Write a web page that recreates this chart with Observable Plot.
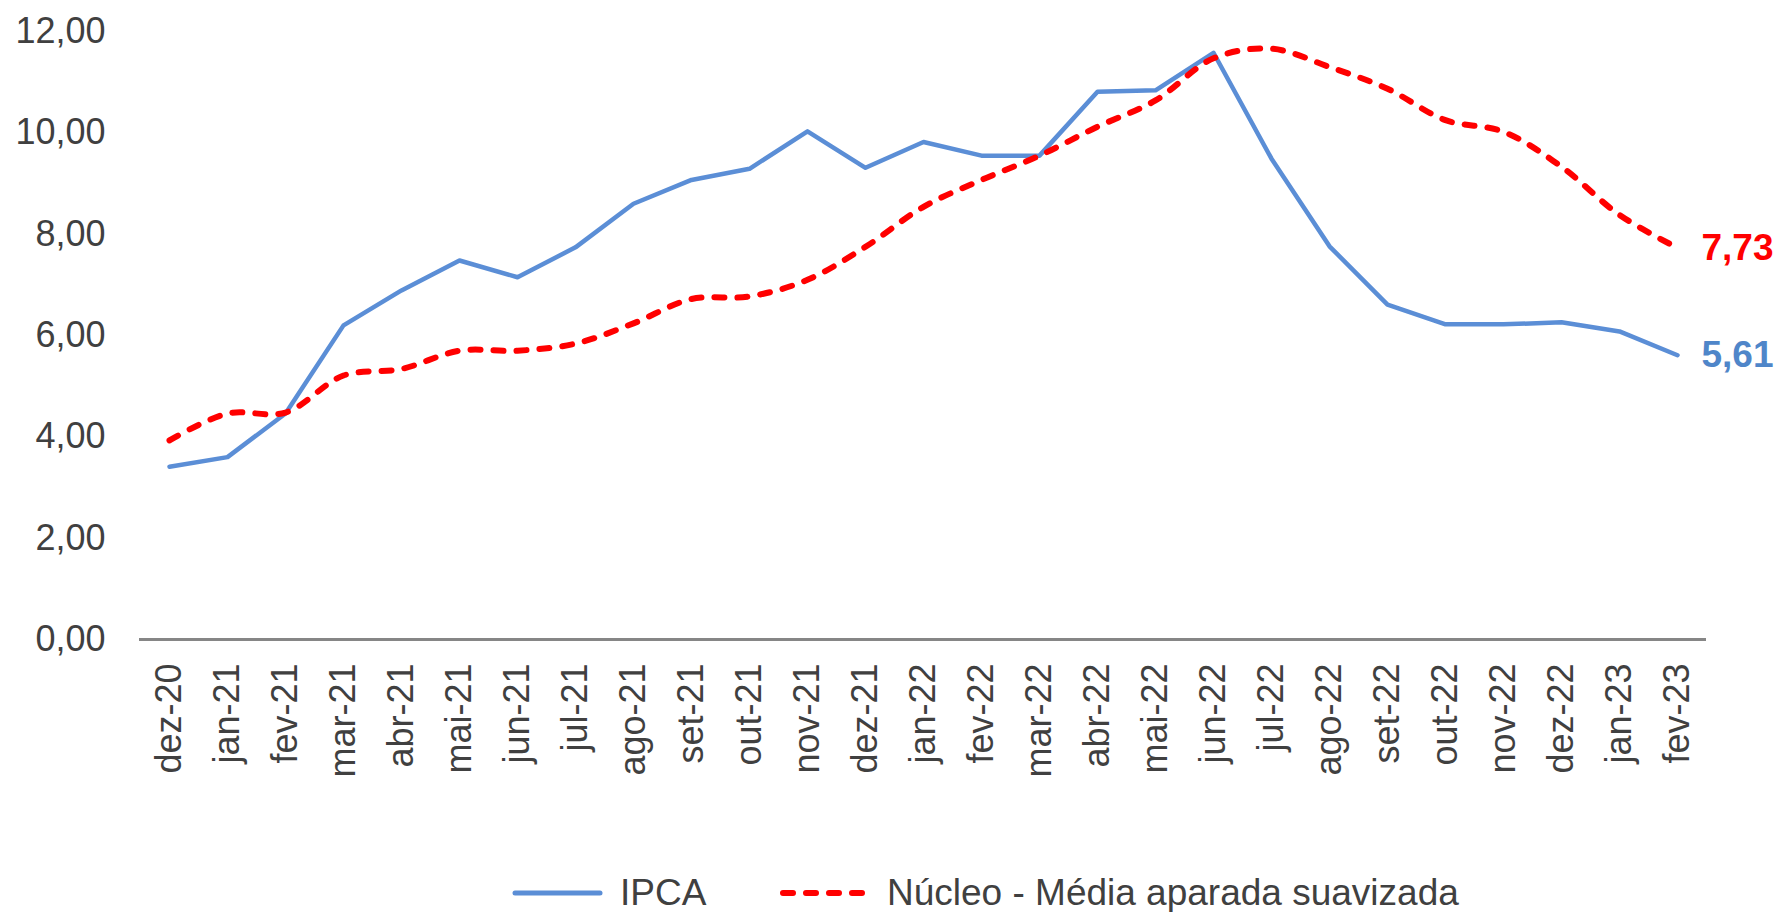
<!DOCTYPE html>
<html>
<head>
<meta charset="utf-8">
<script src="https://cdn.jsdelivr.net/npm/d3@7"></script>
<script src="https://cdn.jsdelivr.net/npm/@observablehq/plot@0.6"></script>
<style>
  html, body { margin: 0; padding: 0; background: #fff; }
  #chart svg { display: block; }
  #legend { position: relative; height: 112px; font-family: "Liberation Sans", Arial, sans-serif; font-size: 37px; color: #404040; }
  .item { position: absolute; top: 73px; height: 40px; line-height: 40px; display: flex; align-items: center; white-space: nowrap; }
  .item svg { margin-right: 17px; }
</style>
</head>
<body>
<div id="chart"></div>
<div id="legend">
  <div class="item" style="left:512px">
    <svg width="91" height="12"><line x1="3" y1="6" x2="88" y2="6" stroke="#5B8ED6" stroke-width="5" stroke-linecap="round"/></svg>IPCA
  </div>
  <div class="item" style="left:779px">
    <svg width="91" height="12"><line x1="4" y1="6" x2="88" y2="6" stroke="#FF0000" stroke-width="6" stroke-dasharray="10,13" stroke-linecap="round"/></svg>Núcleo - Média aparada suavizada
  </div>
</div>
<script>
const months = ["dez-20","jan-21","fev-21","mar-21","abr-21","mai-21","jun-21","jul-21","ago-21","set-21","out-21","nov-21","dez-21","jan-22","fev-22","mar-22","abr-22","mai-22","jun-22","jul-22","ago-22","set-22","out-22","nov-22","dez-22","jan-23","fev-23"];
const ipca = [3.41,3.60,4.46,6.20,6.89,7.48,7.15,7.74,8.60,9.07,9.29,10.03,9.31,9.82,9.55,9.55,10.81,10.84,11.58,9.49,7.76,6.61,6.22,6.22,6.26,6.08,5.61];
const nucleo = [3.93,4.46,4.48,5.21,5.34,5.70,5.70,5.84,6.24,6.72,6.77,7.10,7.75,8.54,9.07,9.55,10.12,10.64,11.47,11.66,11.30,10.87,10.25,10.02,9.33,8.38,7.73];
const yTicks = [0,2,4,6,8,10,12];

const ipcaData = months.map((m, i) => ({m, v: ipca[i]}));
const nucData = months.map((m, i) => ({m, v: nucleo[i]}));
const fmt = d => d.toFixed(2).replace(".", ",");
const blue = "#5B8ED6";
const red = "#FF0000";

const chart = Plot.plot({
  width: 1783,
  height: 800,
  marginLeft: 139,
  marginRight: 77,
  marginTop: 31,
  marginBottom: 161,
  style: {fontFamily: "'Liberation Sans', Arial, sans-serif", fontSize: "36px", color: "#404040", background: "#fff"},
  x: {type: "point", domain: months, padding: 0.5, label: null},
  y: {domain: [0, 12], label: null},
  marks: [
    Plot.axisY({ticks: yTicks, tickFormat: fmt, tickSize: 0, tickPadding: 34, fontSize: 36, fill: "#404040", label: null}),
    Plot.axisX({tickSize: 0, tickPadding: 24, tickRotate: -90, fontSize: 36, fill: "#404040", label: null}),
    Plot.ruleY([0], {stroke: "#868686", strokeWidth: 3}),
    Plot.line(ipcaData, {x: "m", y: "v", stroke: blue, strokeWidth: 4.5, strokeLinejoin: "round"}),
    Plot.line(nucData, {x: "m", y: "v", stroke: red, strokeWidth: 6, strokeDasharray: "10,13", strokeLinecap: "round", curve: "catmull-rom"}),
    Plot.text(nucData.slice(-1), {x: "m", y: "v", text: d => fmt(d.v), dx: 24, textAnchor: "start", fill: red, fontWeight: "bold", fontSize: 37}),
    Plot.text(ipcaData.slice(-1), {x: "m", y: "v", text: d => fmt(d.v), dx: 24, textAnchor: "start", fill: "#4F86C9", fontWeight: "bold", fontSize: 37})
  ]
});
document.getElementById("chart").appendChild(chart);
</script>
</body>
</html>
